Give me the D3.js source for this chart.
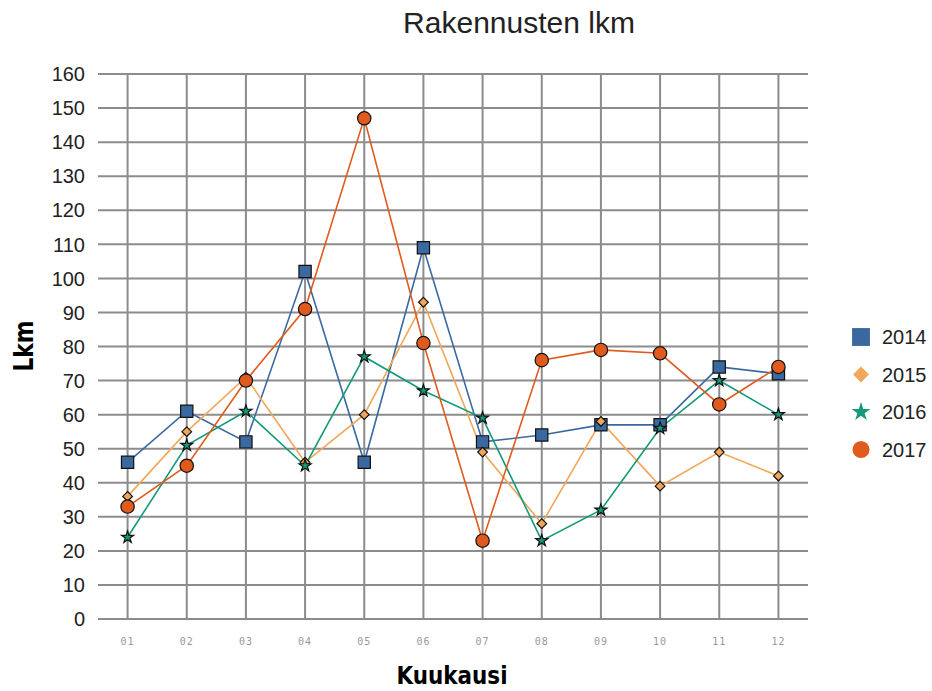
<!DOCTYPE html>
<html><head><meta charset="utf-8">
<script src="https://cdn.jsdelivr.net/npm/d3@7"></script>
<style>body{margin:0;background:#fff}svg{display:block}</style>
</head><body>
<svg id="c" width="932" height="691"></svg>
<script>
const months = ["01","02","03","04","05","06","07","08","09","10","11","12"];
const yTicks = [0,10,20,30,40,50,60,70,80,90,100,110,120,130,140,150,160];
const s2014 = [46,61,52,102,46,109,52,54,57,57,74,72];
const s2015 = [36,55,71,46,60,93,49,28,58,39,49,42];
const s2016 = [24,51,61,45,77,67,59,23,32,56,70,60];
const s2017 = [33,45,70,91,147,81,23,76,79,78,63,74];
const seriesNames = ["2014","2015","2016","2017"];
const colors = ["#3a69a0","#f2a65a","#139a78","#e05a1e"];
const shapes = [d3.symbolSquare, d3.symbolDiamond2, d3.symbolStar, d3.symbolCircle];

const series = [s2014,s2015,s2016,s2017].map((v,i)=>({name:seriesNames[i],values:v,color:colors[i],shape:shapes[i]}));

const svg = d3.select("#c");
const L=98,R=808,T=74,B=619;
const x = d3.scaleBand().domain(months).range([L,R]).paddingInner(0).paddingOuter(0);
const y = d3.scaleLinear().domain([0,160]).range([B,T]);
const cx = m => x(m)+x.bandwidth()/2;

// horizontal grid
svg.append("g").selectAll("line").data(yTicks).join("line")
  .attr("x1",L).attr("x2",R).attr("y1",d=>y(d)).attr("y2",d=>y(d))
  .attr("stroke","#8c8c8c").attr("stroke-width",2);
// vertical grid
svg.append("g").selectAll("line").data(months).join("line")
  .attr("x1",cx).attr("x2",cx).attr("y1",T).attr("y2",B)
  .attr("stroke","#8c8c8c").attr("stroke-width",2);

// y labels
svg.append("g").selectAll("text").data(yTicks).join("text")
  .attr("x",85).attr("y",d=>y(d)).attr("dy","0.36em").attr("text-anchor","end")
  .attr("font-family","Liberation Sans, Arial, sans-serif").attr("font-size",20).attr("fill","#222")
  .text(d=>d);
// x labels
svg.append("g").selectAll("text").data(months).join("text")
  .attr("x",cx).attr("y",645).attr("text-anchor","middle")
  .attr("font-family","DejaVu Sans Mono, monospace").attr("font-size",10).attr("fill","#999")
  .attr("letter-spacing","1px")
  .text(d=>d);

// title & axis titles
svg.append("text").attr("x",519).attr("y",33).attr("text-anchor","middle")
  .attr("font-family","Liberation Sans, Arial, sans-serif").attr("font-size",30).attr("fill","#222")
  .text("Rakennusten lkm");
svg.append("text").attr("transform","translate(33,346) rotate(-90)").attr("text-anchor","middle")
  .attr("font-family","DejaVu Sans Condensed, DejaVu Sans, sans-serif").attr("font-weight","bold")
  .attr("font-size",26).attr("fill","#000")
  .attr("textLength",51).attr("lengthAdjust","spacingAndGlyphs").text("Lkm");
svg.append("text").attr("x",452).attr("y",684).attr("text-anchor","middle")
  .attr("font-family","DejaVu Sans Condensed, DejaVu Sans, sans-serif").attr("font-weight","bold")
  .attr("font-size",24).attr("fill","#000")
  .attr("textLength",111).attr("lengthAdjust","spacingAndGlyphs").text("Kuukausi");

const line = d3.line().x((d,i)=>cx(months[i])).y(d=>y(d));
series.forEach(s=>{
  svg.append("path").attr("d",line(s.values)).attr("fill","none")
    .attr("stroke",s.color).attr("stroke-width",1.6);
});
const sizes = [150,60,45,140];
series.forEach((s,si)=>{
  svg.append("g").selectAll("path").data(s.values).join("path")
    .attr("transform",(d,i)=>`translate(${cx(months[i])},${y(d)})`)
    .attr("d",d3.symbol().type(s.shape).size(sizes[si]))
    .attr("fill",s.color).attr("stroke","#111").attr("stroke-width",1.2);
});

// legend
const lg = svg.append("g");
const lsizes = [320,160,110,230];
series.forEach((s,i)=>{
  const gy = 337 + i*37.5;
  lg.append("path").attr("transform",`translate(861,${gy})`)
    .attr("d",d3.symbol().type(s.shape).size(lsizes[i])).attr("fill",s.color);
  lg.append("text").attr("x",882).attr("y",gy).attr("dy","0.36em")
    .attr("font-family","Liberation Sans, Arial, sans-serif").attr("font-size",20).attr("fill","#222")
    .text(s.name);
});
</script>
</body></html>
